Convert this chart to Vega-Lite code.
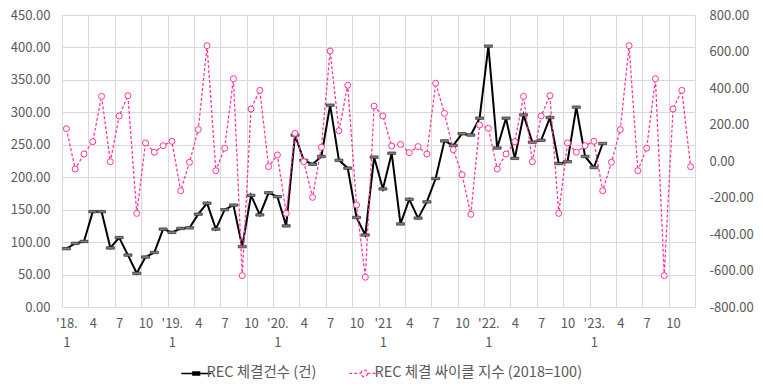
{
  "$schema": "https://vega.github.io/schema/vega-lite/v6.json",
  "width": 633,
  "height": 292,
  "autosize": {"type": "none"},
  "padding": {"left": 62, "top": 15, "right": 68, "bottom": 85},
  "background": "white",
  "config": {
    "view": {"stroke": null},
    "font": "Noto Sans CJK KR",
    "axis": {"labelFont": "Noto Sans CJK KR", "labelFontSize": 13, "labelColor": "#595959", "domain": false, "ticks": false, "title": null, "gridColor": "#d9d9d9", "gridWidth": 1}
  },
  "datasets": {
    "rec": [
      {"i":0,"v":90},{"i":1,"v":98},{"i":2,"v":101},{"i":3,"v":147},{"i":4,"v":147},{"i":5,"v":91},{"i":6,"v":107},{"i":7,"v":80},{"i":8,"v":52},{"i":9,"v":77},
      {"i":10,"v":84},{"i":11,"v":120},{"i":12,"v":115},{"i":13,"v":121},{"i":14,"v":122},{"i":15,"v":143},{"i":16,"v":160},{"i":17,"v":120},{"i":18,"v":150},{"i":19,"v":157},
      {"i":20,"v":93},{"i":21,"v":172},{"i":22,"v":142},{"i":23,"v":176},{"i":24,"v":170},{"i":25,"v":125},{"i":26,"v":265},{"i":27,"v":226},{"i":28,"v":220},{"i":29,"v":232},
      {"i":30,"v":311},{"i":31,"v":226},{"i":32,"v":214},{"i":33,"v":138},{"i":34,"v":111},{"i":35,"v":231},{"i":36,"v":182},{"i":37,"v":237},{"i":38,"v":128},{"i":39,"v":166},
      {"i":40,"v":137},{"i":41,"v":162},{"i":42,"v":198},{"i":43,"v":256},{"i":44,"v":249},{"i":45,"v":267},{"i":46,"v":265},{"i":47,"v":291},{"i":48,"v":402},{"i":49,"v":245},
      {"i":50,"v":291},{"i":51,"v":229},{"i":52,"v":296},{"i":53,"v":254},{"i":54,"v":257},{"i":55,"v":292},{"i":56,"v":221},{"i":57,"v":224},{"i":58,"v":308},{"i":59,"v":232},
      {"i":60,"v":215},{"i":61,"v":252}
    ],
    "cycle": [
      {"i":0,"v":177},{"i":1,"v":-44},{"i":2,"v":38},{"i":3,"v":106},{"i":4,"v":354},{"i":5,"v":-4},{"i":6,"v":247},{"i":7,"v":358},{"i":8,"v":-287},{"i":9,"v":99},
      {"i":10,"v":48},{"i":11,"v":84},{"i":12,"v":108},{"i":13,"v":-163},{"i":14,"v":-7},{"i":15,"v":172},{"i":16,"v":632},{"i":17,"v":-53},{"i":18,"v":70},{"i":19,"v":451},
      {"i":20,"v":-628},{"i":21,"v":285},{"i":22,"v":387},{"i":23,"v":-31},{"i":24,"v":33},{"i":25,"v":-287},{"i":26,"v":152},{"i":27,"v":-4},{"i":28,"v":-199},{"i":29,"v":75},
      {"i":30,"v":603},{"i":31,"v":166},{"i":32,"v":415},{"i":33,"v":-241},{"i":34,"v":-637},{"i":35,"v":301},{"i":36,"v":247},{"i":37,"v":82},{"i":38,"v":91},{"i":39,"v":46},
      {"i":40,"v":79},{"i":41,"v":38},{"i":42,"v":426},{"i":43,"v":261},{"i":44,"v":62},{"i":45,"v":-75},{"i":46,"v":-292},{"i":47,"v":197},{"i":48,"v":179},{"i":49,"v":-44},
      {"i":50,"v":38},{"i":51,"v":106},{"i":52,"v":354},{"i":53,"v":-4},{"i":54,"v":247},{"i":55,"v":358},{"i":56,"v":-287},{"i":57,"v":99},{"i":58,"v":48},{"i":59,"v":84},
      {"i":60,"v":108},{"i":61,"v":-163},{"i":62,"v":-7},{"i":63,"v":172},{"i":64,"v":632},{"i":65,"v":-53},{"i":66,"v":70},{"i":67,"v":451},{"i":68,"v":-628},{"i":69,"v":285},
      {"i":70,"v":387},{"i":71,"v":-31}
    ]
  },
  "encoding": {
    "x": {
      "field": "i", "type": "quantitative",
      "scale": {"domain": [-0.5, 71.5], "nice": false, "zero": false},
      "axis": {
        "values": [-0.5, 2.5, 5.5, 8.5, 11.5, 14.5, 17.5, 20.5, 23.5, 26.5, 29.5, 32.5, 35.5, 38.5, 41.5, 44.5, 47.5, 50.5, 53.5, 56.5, 59.5, 62.5, 65.5, 68.5, 71.5],
        "grid": true,
        "labelExpr": "(datum.value + 0.5) >= 72 ? '' : ((datum.value + 0.5) % 12 == 0 ? [((datum.value + 0.5) == 36 ? \"'21\" : \"'\" + (18 + floor((datum.value + 0.5) / 12)) + '.'), '1'] : '' + ((datum.value + 0.5) % 12 + 1))",
        "labelOffset": 4.4,
        "labelPadding": 10,
        "labelLineHeight": 19,
        "labelOverlap": false,
        "labelFlush": false,
        "labelAlign": "center",
        "labelBaseline": "top"
      }
    }
  },
  "layer": [
    {
      "data": {"name": "rec"},
      "encoding": {
        "y": {
          "field": "v", "type": "quantitative",
          "scale": {"domain": [0, 450], "nice": false, "zero": false},
          "axis": {"orient": "left", "values": [0, 50, 100, 150, 200, 250, 300, 350, 400, 450], "format": ".2f", "grid": true, "labelPadding": 12}
        }
      },
      "layer": [
        {
          "mark": {"type": "line", "strokeWidth": 2},
          "encoding": {
            "color": {
              "datum": "REC 체결건수 (건)",
              "scale": {"domain": ["REC 체결건수 (건)", "REC 체결 싸이클 지수 (2018=100)"], "range": ["#000000", "#ff3399"]},
              "legend": {
                "orient": "none", "legendX": 127, "legendY": 351, "direction": "horizontal", "title": null,
                "symbolSize": 900, "labelFontSize": 14.5, "labelColor": "#595959", "labelFont": "Noto Sans CJK KR",
                "labelOffset": 3, "columnPadding": 29, "labelLimit": 0,
                "encode": {
                  "symbols": {
                    "update": {
                      "shape": {"signal": "datum.value == 'REC 체결건수 (건)' ? 'M-1,0H1M-0.22,-0.1H0.22V0.1H-0.22Z' : 'M-1,0H-0.22M0.22,0H1M0.22,0A0.22,0.22,0,1,1,-0.22,0A0.22,0.22,0,1,1,0.22,0Z'"},
                      "stroke": {"signal": "datum.value == 'REC 체결건수 (건)' ? '#000000' : '#ff3399'"},
                      "fill": {"signal": "datum.value == 'REC 체결건수 (건)' ? '#808080' : '#ffffff'"},
                      "strokeWidth": {"signal": "datum.value == 'REC 체결건수 (건)' ? 1.5 : 1.25"},
                      "strokeDash": {"signal": "datum.value == 'REC 체결건수 (건)' ? [] : [3, 2]"},
                      "opacity": {"value": 1},
                      "fillOpacity": {"value": 1}
                    }
                  }
                }
              }
            }
          }
        },
        {
          "mark": {"type": "point", "shape": "M-1,-0.3H1V0.3H-1Z", "size": 64, "filled": true, "fill": "#808080", "stroke": "#333333", "strokeWidth": 0.75, "opacity": 1}
        }
      ]
    },
    {
      "data": {"name": "cycle"},
      "encoding": {
        "y": {
          "field": "v", "type": "quantitative",
          "scale": {"domain": [-800, 800], "nice": false, "zero": false},
          "axis": {"orient": "right", "values": [-800, -600, -400, -200, 0, 200, 400, 600, 800], "labelExpr": "replace(format(datum.value, '.2f'), '\u2212', '-')", "grid": false, "labelPadding": 14}
        }
      },
      "layer": [
        {
          "mark": {"type": "line", "strokeWidth": 1.25, "strokeDash": [3, 2]},
          "encoding": {"color": {"datum": "REC 체결 싸이클 지수 (2018=100)"}}
        },
        {
          "mark": {"type": "point", "shape": "circle", "size": 36, "filled": true, "fill": "#ffffff", "stroke": "#ff3399", "strokeWidth": 1, "opacity": 1}
        }
      ]
    }
  ],
  "resolve": {"scale": {"y": "independent"}}
}
